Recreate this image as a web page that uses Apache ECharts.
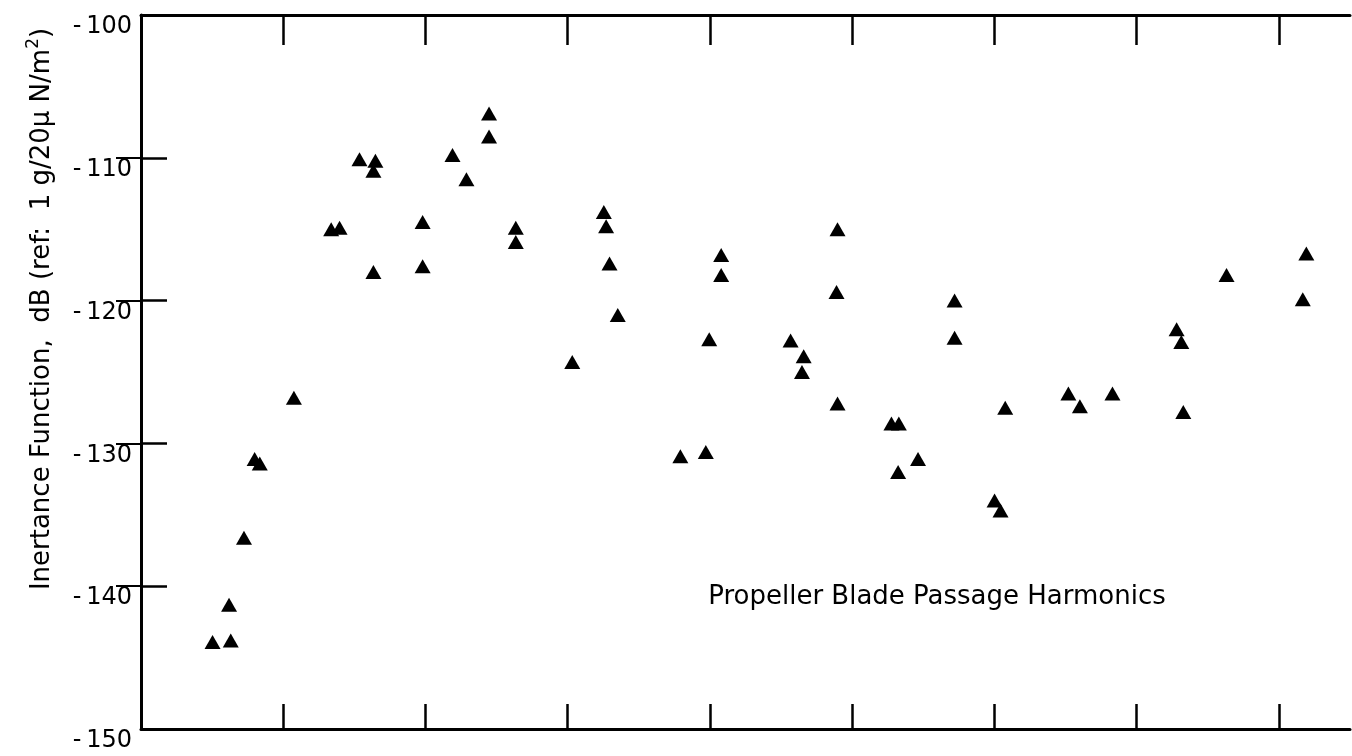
<!DOCTYPE html>
<html>
<head>
<meta charset="utf-8">
<script src="https://cdn.jsdelivr.net/npm/echarts@6/dist/echarts.min.js"></script>
<style>
html,body{margin:0;padding:0;background:#fff;}
#chart{width:1352px;height:756px;}
</style>
</head>
<body>
<div id="chart"></div>
<script>
// Harmonic positions (x, in major-tick units; no labels on the original x axis)
const xValues = [
  0.503, 0.631, 0.619, 0.724, 0.799, 0.835, 1.075,
  1.337, 1.396, 1.536, 1.648, 1.634, 1.634, 1.980, 1.980,
  2.190, 2.288, 2.447, 2.447, 2.635, 2.635,
  3.032, 3.254, 3.270, 3.294, 3.352, 3.792, 3.971, 3.995, 4.079, 4.079,
  4.567, 4.659, 4.647, 4.897, 4.890, 4.897,
  5.276, 5.328, 5.463, 5.323, 5.720, 5.720,
  6.001, 6.043, 6.076, 6.520, 6.601, 6.830,
  7.281, 7.314, 7.328, 7.632, 8.168, 8.193
];
// Inertance function, dB
const yValues = [
  -143.9, -143.8, -141.3, -136.6, -131.1, -131.4, -126.8,
  -115.0, -114.9, -110.1, -110.2, -110.9, -118.0, -114.5, -117.6,
  -109.8, -111.5, -106.9, -108.5, -114.9, -115.9,
  -124.3, -113.8, -114.8, -117.4, -121.0, -130.9, -130.6, -122.7, -116.8, -118.2,
  -122.8, -123.9, -125.0, -115.0, -119.4, -127.2,
  -128.6, -128.6, -131.1, -132.0, -120.0, -122.6,
  -134.0, -134.7, -127.5, -126.5, -127.4, -126.5,
  -122.0, -122.9, -127.8, -118.2, -119.9, -116.7
];
const xTickValues = [1, 2, 3, 4, 5, 6, 7, 8];
const yTickValues = [-140, -130, -120, -110];
const yAxisTitle = 'Inertance Function,  dB (ref:  1 g/20\u03bc N/m{sup|2})';
const annotationText = 'Propeller Blade Passage Harmonics';

const points = xValues.map((x, i) => [x, yValues[i]]);
const FONT = '"DejaVu Sans", sans-serif';

const chart = echarts.init(document.getElementById('chart'), null, {renderer: 'canvas'});
chart.setOption({
  backgroundColor: '#ffffff',
  animation: false,
  grid: {left: 141, right: 2, top: 15, bottom: 27, containLabel: false},
  xAxis: [
    {
      type: 'value', position: 'bottom', min: 0, max: 8.5, interval: 1,
      axisLine: {show: true, lineStyle: {color: '#000', width: 3}},
      axisTick: {show: true, inside: true, length: 25, customValues: xTickValues,
        lineStyle: {color: '#000', width: 2.5}},
      axisLabel: {show: false},
      splitLine: {show: false}
    },
    {
      type: 'value', position: 'top', min: 0, max: 8.5, interval: 1,
      axisLine: {show: true, lineStyle: {color: '#000', width: 3}},
      axisTick: {show: true, inside: true, length: 30, customValues: xTickValues,
        lineStyle: {color: '#000', width: 2.5}},
      axisLabel: {show: false},
      splitLine: {show: false}
    }
  ],
  yAxis: [
    {
      type: 'value', position: 'left', min: -150, max: -100, interval: 10,
      axisLine: {show: true, lineStyle: {color: '#000', width: 3}},
      axisTick: {show: true, inside: true, length: 26, customValues: yTickValues,
        lineStyle: {color: '#000', width: 2.5}},
      axisLabel: {show: true, color: '#000', fontSize: 24, fontFamily: FONT,
        margin: 9, verticalAlign: 'top',
        formatter: v => '-\u2009' + Math.abs(v)},
      splitLine: {show: false}
    },
    {
      type: 'value', position: 'right', min: -150, max: -100, interval: 10,
      axisLine: {show: true, lineStyle: {color: '#000', width: 2}},
      axisTick: {show: true, inside: true, length: 25, customValues: yTickValues,
        lineStyle: {color: '#000', width: 2}},
      axisLabel: {show: false},
      splitLine: {show: false}
    }
  ],
  series: [{
    type: 'scatter',
    xAxisIndex: 0, yAxisIndex: 0,
    symbol: 'triangle',
    symbolSize: [16, 14],
    itemStyle: {color: '#000', opacity: 1},
    data: points
  }],
  graphic: [
    {
      type: 'text', x: 42, y: 309, rotation: Math.PI / 2,
      style: {
        text: yAxisTitle,
        font: '26px ' + FONT, fill: '#000',
        align: 'center', verticalAlign: 'middle',
        rich: {
          sup: {fontSize: 17, fontFamily: FONT, fill: '#000', verticalAlign: 'top', padding: [0, 0, 16, 0]}
        }
      }
    },
    {
      type: 'text', x: 937, y: 597,
      style: {
        text: annotationText,
        font: '26px ' + FONT, fill: '#000',
        align: 'center', verticalAlign: 'middle'
      }
    }
  ]
});
</script>
</body>
</html>
